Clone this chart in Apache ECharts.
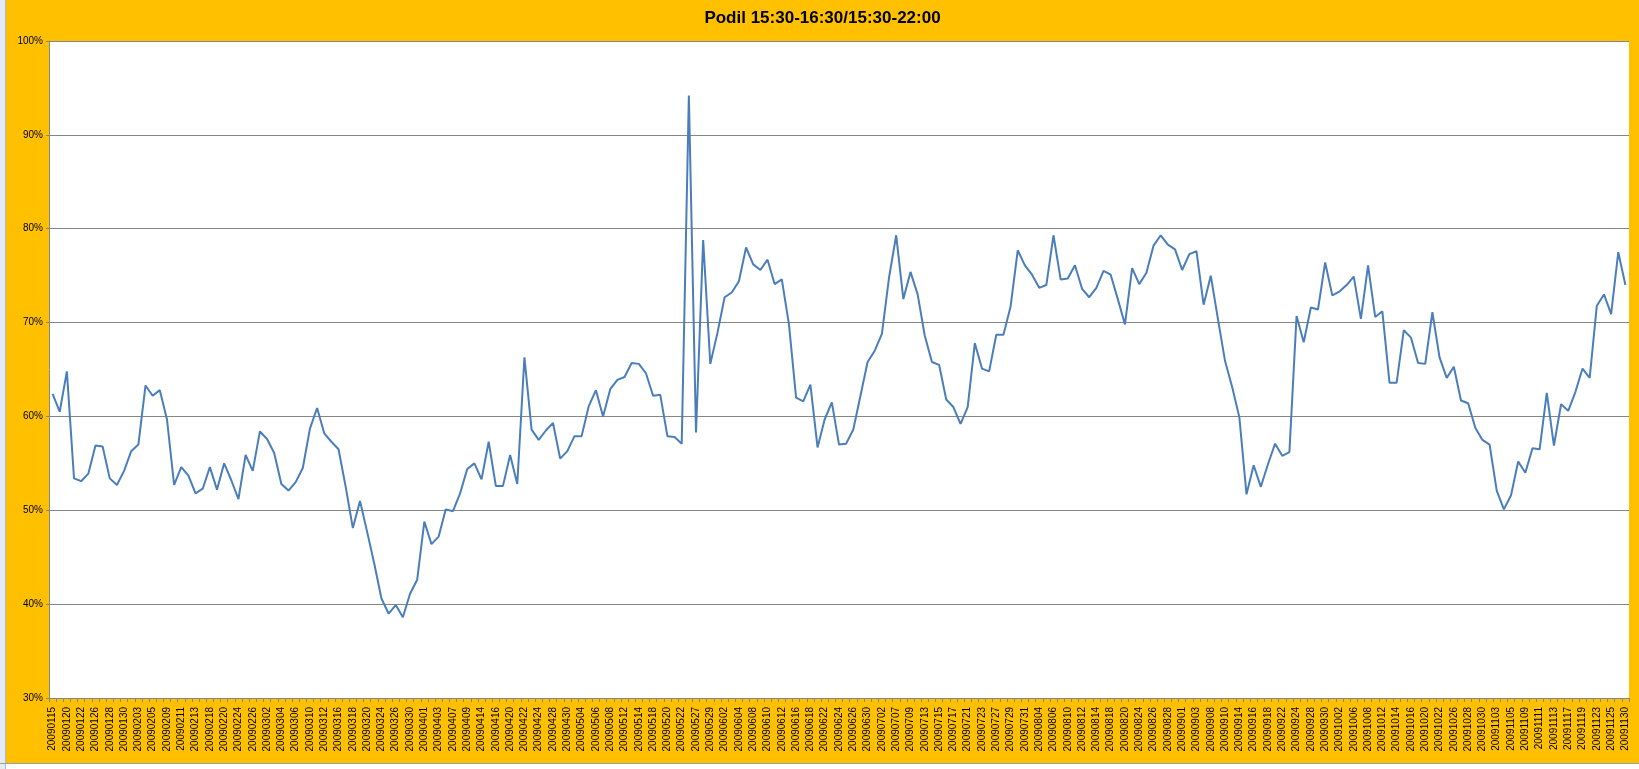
<!DOCTYPE html>
<html>
<head>
<meta charset="utf-8">
<script src="https://cdn.jsdelivr.net/npm/echarts@6/dist/echarts.min.js"></script>
<style>
  html, body { margin: 0; padding: 0; background: #ffffff; width: 1639px; height: 769px; overflow: hidden; }
  #strip { position: absolute; left: 0; top: 0; width: 5px; height: 769px; background: #E4EBF5; border-right: 1px solid #A9BCD6; }
  #chart { position: absolute; left: 6px; top: 0; width: 1633px; height: 763px; background: #FFC000; }
  #bottom { position: absolute; left: 0; top: 763px; width: 1639px; height: 1px; background: #A0A0A0; }
</style>
</head>
<body>
<div id="strip"></div>
<div id="chart"></div>
<div id="bottom"></div>
<script>
const titleText = 'Podil 15:30-16:30/15:30-22:00';

const dates = [
  '20090115','20090116','20090120','20090121','20090122','20090123','20090126','20090127','20090128','20090129','20090130',
  '20090202','20090203','20090204','20090205','20090206','20090209','20090210','20090211','20090212','20090213',
  '20090217','20090218','20090219','20090220','20090223','20090224','20090225','20090226','20090227',
  '20090302','20090303','20090304','20090305','20090306','20090309','20090310','20090311','20090312','20090313',
  '20090316','20090317','20090318','20090319','20090320','20090323','20090324','20090325','20090326','20090327',
  '20090330','20090331',
  '20090401','20090402','20090403','20090406','20090407','20090408','20090409','20090413','20090414','20090415',
  '20090416','20090417','20090420','20090421','20090422','20090423','20090424','20090427','20090428','20090429','20090430',
  '20090501','20090504','20090505','20090506','20090507','20090508','20090511','20090512','20090513','20090514','20090515',
  '20090518','20090519','20090520','20090521','20090522','20090526','20090527','20090528','20090529',
  '20090601','20090602','20090603','20090604','20090605','20090608','20090609','20090610','20090611','20090612',
  '20090615','20090616','20090617','20090618','20090619','20090622','20090623','20090624','20090625','20090626',
  '20090629','20090630',
  '20090701','20090702','20090706','20090707','20090708','20090709','20090710','20090713','20090714','20090715',
  '20090716','20090717','20090720','20090721','20090722','20090723','20090724','20090727','20090728','20090729',
  '20090730','20090731',
  '20090803','20090804','20090805','20090806','20090807','20090810','20090811','20090812','20090813','20090814',
  '20090817','20090818','20090819','20090820','20090821','20090824','20090825','20090826','20090827','20090828',
  '20090831',
  '20090901','20090902','20090903','20090904','20090908','20090909','20090910','20090911','20090914','20090915',
  '20090916','20090917','20090918','20090921','20090922','20090923','20090924','20090925','20090928','20090929',
  '20090930',
  '20091001','20091002','20091005','20091006','20091007','20091008','20091009','20091012','20091013','20091014',
  '20091015','20091016','20091019','20091020','20091021','20091022','20091023','20091026','20091027','20091028',
  '20091029','20091030',
  '20091102','20091103','20091104','20091105','20091106','20091109','20091110','20091111','20091112','20091113',
  '20091116','20091117','20091118','20091119','20091120','20091123','20091124','20091125','20091127','20091130'
];

const podil = [
  62.4, 60.5, 64.8, 53.4, 53.1, 53.9, 56.9, 56.8, 53.4, 52.7, 54.2,
  56.3, 57.0, 63.3, 62.2, 62.8, 59.7, 52.7, 54.6, 53.7, 51.8,
  52.3, 54.6, 52.2, 55.0, 53.2, 51.2, 55.9, 54.2, 58.4,
  57.6, 56.1, 52.8, 52.1, 53.0, 54.5, 58.7, 60.9, 58.2, 57.3,
  56.5, 52.5, 48.1, 51.0, 47.7, 44.3, 40.6, 39.0, 39.9, 38.6,
  41.1, 42.6,
  48.8, 46.4, 47.2, 50.1, 49.9, 51.8, 54.4, 55.0, 53.3, 57.3,
  52.6, 52.6, 55.9, 52.8, 66.3, 58.6, 57.5, 58.5, 59.3, 55.5, 56.3,
  57.9, 57.9, 61.1, 62.8, 60.0, 62.9, 63.9, 64.2, 65.7, 65.6, 64.6,
  62.2, 62.3, 57.9, 57.8, 57.1, 94.2, 58.3, 78.8, 65.6,
  68.9, 72.7, 73.2, 74.4, 78.0, 76.2, 75.6, 76.7, 74.1, 74.6,
  69.8, 62.0, 61.6, 63.4, 56.7, 59.7, 61.5, 57.0, 57.1, 58.6,
  62.2, 65.8,
  67.0, 68.8, 74.8, 79.3, 72.5, 75.4, 73.0, 68.6, 65.8, 65.5,
  61.8, 61.0, 59.2, 61.0, 67.8, 65.1, 64.8, 68.7, 68.7, 71.7,
  77.7, 76.1,
  75.1, 73.7, 74.0, 79.3, 74.6, 74.7, 76.1, 73.6, 72.7, 73.7,
  75.5, 75.1, 72.5, 69.8, 75.8, 74.1, 75.3, 78.2, 79.3, 78.3,
  77.8,
  75.6, 77.3, 77.6, 71.9, 75.0, 70.4, 65.9, 63.1, 59.9, 51.7,
  54.8, 52.5, 54.9, 57.1, 55.8, 56.2, 70.7, 67.9, 71.6, 71.4,
  76.4,
  72.9, 73.3, 74.0, 74.9, 70.4, 76.1, 70.6, 71.2, 63.6, 63.6,
  69.2, 68.4, 65.7, 65.6, 71.1, 66.3, 64.1, 65.3, 61.7, 61.4,
  58.8, 57.5,
  57.0, 52.1, 50.1, 51.6, 55.2, 54.0, 56.6, 56.5, 62.5, 56.9,
  61.3, 60.6, 62.6, 65.1, 64.1, 71.8, 73.0, 70.9, 77.5, 74.0
];

const yMin = 30, yMax = 100, yStep = 10;

const chart = echarts.init(document.getElementById('chart'), null, { renderer: 'canvas' });
chart.setOption({
  animation: false,
  backgroundColor: '#FFC000',
  title: {
    text: titleText,
    left: 'center',
    top: 5,
    textStyle: { fontFamily: 'Liberation Sans, Arial, sans-serif', fontSize: 17, fontWeight: 'bold', color: '#000000' }
  },
  grid: { left: 43, top: 41, right: 10, bottom: 65, show: true, backgroundColor: '#ffffff', borderWidth: 0 },
  xAxis: {
    type: 'category',
    data: dates,
    boundaryGap: true,
    axisLine: { show: true, lineStyle: { color: '#868686', width: 1 } },
    axisTick: { show: true, interval: 0, length: 4, lineStyle: { color: '#868686' } },
    axisLabel: {
      interval: 1,
      rotate: 90,
      margin: 9,
      fontFamily: 'Liberation Sans, Arial, sans-serif',
      fontSize: 10,
      color: '#000000'
    },
    splitLine: { show: false }
  },
  yAxis: {
    type: 'value',
    min: yMin,
    max: yMax,
    interval: yStep,
    axisLine: { show: true, lineStyle: { color: '#868686', width: 1 } },
    axisTick: { show: true, length: 3, lineStyle: { color: '#868686' } },
    axisLabel: {
      formatter: '{value}%',
      margin: 6,
      fontFamily: 'Liberation Sans, Arial, sans-serif',
      fontSize: 10,
      color: '#000000'
    },
    splitLine: { show: true, lineStyle: { color: '#868686', width: 1 } }
  },
  series: [{
    type: 'line',
    data: podil,
    showSymbol: false,
    symbol: 'none',
    lineStyle: { color: '#4A7EBB', width: 2 },
    itemStyle: { color: '#4A7EBB' }
  }]
});
</script>
</body>
</html>
